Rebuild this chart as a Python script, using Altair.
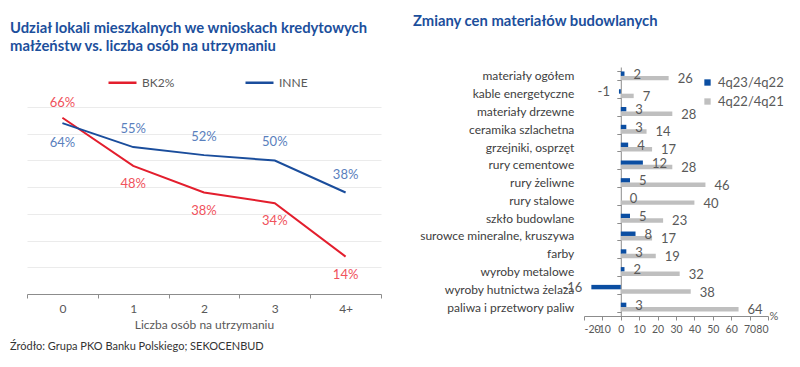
import altair as alt
import pandas as pd

FONT = "Lato"

# ---- left chart data ----
dependents = ["0", "1", "2", "3", "4+"]
bk2 = [66, 48, 38, 34, 14]
inne = [64, 55, 52, 50, 38]
series_left = ["BK2%", "INNE"]

# ---- right chart data ----
materials = [
    "materiały ogółem", "kable energetyczne", "materiały drzewne",
    "ceramika szlachetna", "grzejniki, osprzęt", "rury cementowe",
    "rury żeliwne", "rury stalowe", "szkło budowlane",
    "surowce mineralne, kruszywa", "farby", "wyroby metalowe",
    "wyroby hutnictwa żelaza", "paliwa i przetwory paliw",
]
q4_23 = [2, -1, 3, 3, 4, 12, 5, 0, 5, 8, 3, 2, -16, 3]
q4_22 = [26, 7, 28, 14, 17, 28, 46, 40, 23, 17, 19, 32, 38, 64]
series_right = ["4q23/4q22", "4q22/4q21"]
x_ticks = [-20, -10, 0, 10, 20, 30, 40, 50, 60, 70, 80]

RED = "#e31e2d"
BLUE = "#1a4d9c"
RED_LBL = "#f0525c"
BLUE_LBL = "#5a80bd"
TXT = "#595959"
AX = "#8c8c8c"
TITLE_C = "#1c4f9c"

left_df = pd.DataFrame(
    [{"cat": c, "series": series_left[0], "v": v} for c, v in zip(dependents, bk2)]
    + [{"cat": c, "series": series_left[1], "v": v} for c, v in zip(dependents, inne)]
)
left_df["lbl"] = left_df["v"].astype(str) + "%"

right_df = pd.DataFrame(
    [{"mat": m, "period": series_right[0], "val": v} for m, v in zip(materials, q4_23)]
    + [{"mat": m, "period": series_right[1], "val": v} for m, v in zip(materials, q4_22)]
)
right_df["vlbl"] = right_df["val"].astype(str)

LW, LH = 354, 227
xl = alt.X(
    "cat:N", sort=dependents, bandPosition=0.5,
    scale=alt.Scale(type="band", paddingInner=0, paddingOuter=0),
    axis=alt.Axis(
        title="Liczba osób na utrzymaniu", tickBand="extent", labelAngle=0,
        domainColor=AX, tickColor=AX, tickSize=4, labelColor=TXT, labelFontSize=12,
        labelPadding=5, titleColor=TXT, titleFontSize=12, titleFontWeight="normal",
        titlePadding=5, labelFont=FONT, titleFont=FONT,
    ),
)
yl = alt.Y(
    "v:Q", scale=alt.Scale(domain=[0, 85], nice=False),
    axis=alt.Axis(
        title=None, labels=False, ticks=False, domain=False, grid=True,
        values=[10, 20, 30, 40, 50, 60, 70], gridColor="#ebebeb",
    ),
)

lbase = alt.Chart(left_df)
lines = lbase.mark_line(strokeWidth=2).encode(
    x=xl, y=yl,
    color=alt.Color(
        "series:N", sort=series_left,
        scale=alt.Scale(domain=series_left, range=[RED, BLUE]),
        legend=alt.Legend(
            title=None, orient="none", legendX=80, legendY=0, direction="horizontal",
            symbolType="stroke", symbolSize=784, symbolStrokeWidth=2.5,
            labelFontSize=12, labelColor=TXT, labelFont=FONT, labelOffset=4,
            columnPadding=65,
        ),
    ),
)

def lbl_layer(series, cond, dy, color):
    return lbase.transform_filter(
        (alt.datum.series == series) & cond
    ).mark_text(dy=dy, fontSize=13, font=FONT, color=color).encode(
        x=xl, y=yl, text="lbl:N"
    )

first = alt.datum.cat == "0"
notfirst = alt.datum.cat != "0"
left = alt.layer(
    lines,
    lbl_layer("BK2%", notfirst, 18, RED_LBL),
    lbl_layer("BK2%", first, -15, RED_LBL),
    lbl_layer("INNE", notfirst, -18, BLUE_LBL),
    lbl_layer("INNE", first, 20, BLUE_LBL),
).properties(
    width=LW, height=LH,
    title=alt.TitleParams(
        ["Udział lokali mieszkalnych we wnioskach kredytowych",
         "małżeństw vs. liczba osób na utrzymaniu"],
        anchor="start", frame="group", dx=-17, offset=13, fontSize=14.8,
        lineHeight=18, font=FONT, fontWeight="bold", color=TITLE_C,
    ),
)

RW, RH = 184, 249
yr = alt.Y(
    "mat:N", sort=materials,
    scale=alt.Scale(paddingInner=0.5, paddingOuter=0.25),
    axis=alt.Axis(
        title=None, offset=-RW * 20 / 100, tickBand="extent", tickSize=4,
        labelPadding=43, domainColor=AX, tickColor=AX, labelColor="#404040",
        labelFontSize=12, labelFont=FONT,
    ),
)
xr = alt.X(
    "val:Q", scale=alt.Scale(domain=[-20, 80], nice=False),
    axis=alt.Axis(
        values=x_ticks, grid=False, title="%", titleX=RW + 1, titleY=3,
        titleAlign="left", titleBaseline="alphabetic", titleFontSize=11,
        titleFontWeight="normal", titleColor=TXT, titleFont=FONT,
        domainColor=AX, tickColor=AX, tickSize=4, labelColor=TXT,
        labelFontSize=10.5, labelFont=FONT, labelPadding=4, labelOverlap=False,
        labelExpr="'' + datum.value",
    ),
)
yo = alt.YOffset("period:N", sort=series_right)
rbase = alt.Chart(right_df)
bars = rbase.mark_bar().encode(
    y=yr, x=xr, yOffset=yo,
    color=alt.Color(
        "period:N", sort=series_right,
        scale=alt.Scale(domain=series_right, range=["#0b4ea2", "#bfbfbf"]),
        legend=alt.Legend(
            title=None, orient="none", legendX=117, legendY=9, symbolType="square",
            symbolSize=40, labelFontSize=13, labelColor=TXT, labelFont=FONT,
            labelOffset=4, rowPadding=5,
        ),
    ),
)
pos_lbl = rbase.transform_filter(alt.datum.val >= 0).mark_text(
    align="left", dx=9, dy=1, fontSize=13, font=FONT, color=TXT
).encode(y=yr, x=xr, yOffset=yo, text="vlbl:N")
neg_lbl = rbase.transform_filter(alt.datum.val < 0).mark_text(
    align="right", dx=-9, dy=1, fontSize=13, font=FONT, color=TXT
).encode(y=yr, x=xr, yOffset=yo, text="vlbl:N")

right = alt.layer(bars, pos_lbl, neg_lbl).properties(
    width=RW, height=RH,
    title=alt.TitleParams(
        "Zmiany cen materiałów budowlanych", anchor="start", frame="group",
        dx=-171, offset=32, fontSize=14.8, font=FONT, fontWeight="bold", color=TITLE_C,
    ),
)

chart = alt.hconcat(left, right, spacing=203, bounds="flush").resolve_scale(
    color="independent"
).properties(
    title=alt.TitleParams(
        "Źródło: Grupa PKO Banku Polskiego; SEKOCENBUD", orient="bottom",
        anchor="start", fontSize=11, fontWeight="normal", color="#333333",
        font=FONT, offset=6,
    ),
    padding={"left": 2, "top": 6, "right": 5, "bottom": 5},
).configure_view(stroke=None)

chart.save("out.html", embed_options={"renderer": "svg", "actions": False})
